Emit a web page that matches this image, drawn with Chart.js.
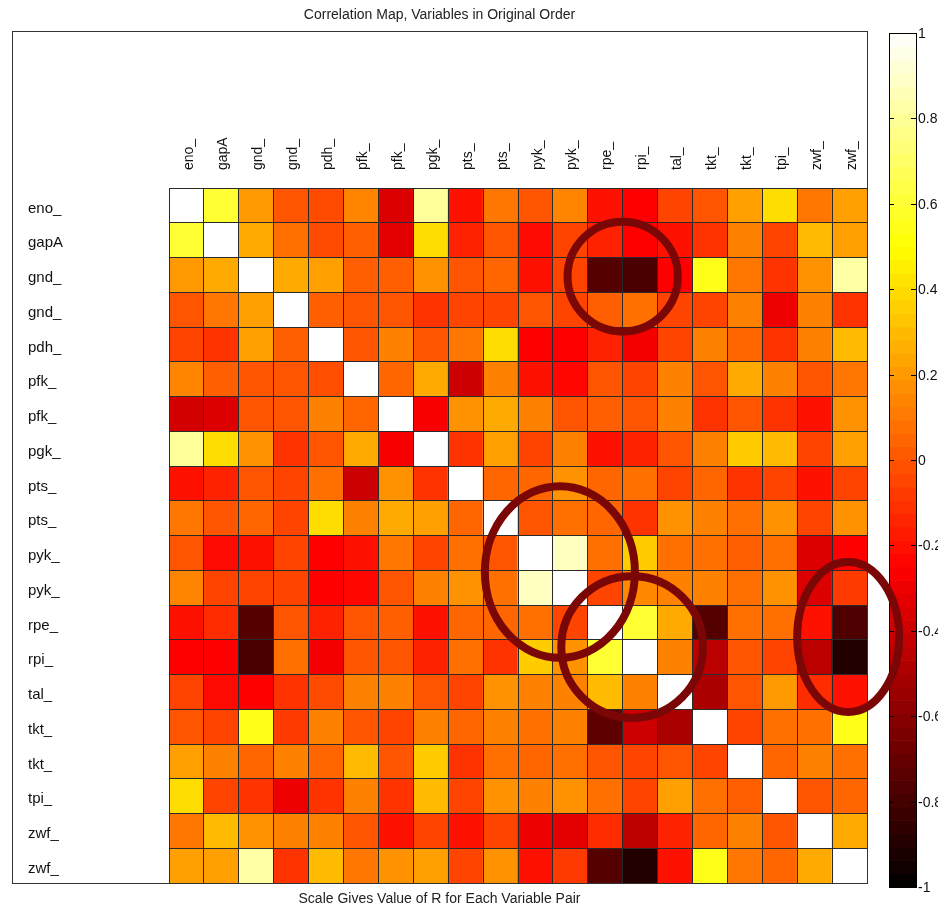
<!DOCTYPE html>
<html>
<head>
<meta charset="utf-8">
<script src="https://cdn.jsdelivr.net/npm/chart.js@4.4.1/dist/chart.umd.min.js"></script>
<style>
  html, body { margin: 0; background: #fff; }
  canvas { display: block; }
</style>
</head>
<body>
<canvas id="heat" width="938" height="907"></canvas>
<script>
// ── Data ────────────────────────────────────────────────
const varNames = [
  "eno_", "gapA", "gnd_", "gnd_", "pdh_", "pfk_", "pfk_", "pgk_", "pts_", "pts_",
  "pyk_", "pyk_", "rpe_", "rpi_", "tal_", "tkt_", "tkt_", "tpi_", "zwf_", "zwf_",
];

// correlation R, row by row
const rEno   = [1, 0.6, 0.2, 0, -0.03, 0.14, -0.35, 0.8, -0.2, 0.1, 0, 0.14, -0.2, -0.25, -0.05, 0, 0.22, 0.4, 0.1, 0.22];
const rGapA  = [0.6, 1, 0.25, 0.08, -0.03, 0.03, -0.33, 0.4, -0.15, 0, -0.22, -0.05, -0.15, -0.25, -0.2, -0.1, 0.13, -0.05, 0.3, 0.22];
const rGnd1  = [0.2, 0.25, 1, 0.25, 0.22, 0.03, 0.03, 0.18, 0, 0.05, -0.2, -0.05, -0.75, -0.78, -0.25, 0.55, 0.1, -0.1, 0.18, 0.82];
const rGnd2  = [0, 0.1, 0.22, 1, 0.03, 0, 0, -0.1, -0.05, -0.05, 0, -0.05, 0.03, 0.08, -0.05, -0.05, 0.13, -0.3, 0.13, -0.1];
const rPdh   = [-0.05, -0.1, 0.22, 0.03, 1, 0, 0.13, 0, 0.1, 0.4, -0.25, -0.25, -0.15, -0.28, -0.05, 0.13, 0.05, -0.1, 0.13, 0.3];
const rPfk1  = [0.14, 0.03, 0, 0, -0.02, 1, 0.05, 0.25, -0.4, 0.13, -0.2, -0.23, 0, -0.05, 0.13, 0, 0.25, 0.13, 0, 0.1];
const rPfk2  = [-0.38, -0.35, 0, 0, 0.13, 0.05, 1, -0.27, 0.18, 0.25, 0.13, 0, 0.03, 0, 0.13, -0.1, 0, -0.1, -0.2, 0.18];
const rPgk   = [0.8, 0.4, 0.18, -0.1, 0, 0.25, -0.27, 1, -0.1, 0.22, -0.05, 0.13, -0.2, -0.15, 0, 0.13, 0.35, 0.3, -0.05, 0.22];
const rPts1  = [-0.2, -0.15, 0, -0.05, 0.08, -0.4, 0.18, -0.1, 1, 0.05, 0.05, 0.18, 0.05, 0.08, -0.05, 0.05, -0.1, -0.05, -0.2, -0.05];
const rPts2  = [0.1, 0, 0.05, -0.05, 0.4, 0.13, 0.25, 0.22, 0.05, 1, 0, 0.08, 0.05, -0.1, 0.18, 0.13, 0.08, 0.18, -0.05, 0.18];
const rPyk1  = [0, -0.22, -0.2, -0.05, -0.25, -0.2, 0.1, -0.05, 0.08, 0, 1, 0.88, 0.08, 0.35, 0.08, 0.08, 0.03, 0.08, -0.35, -0.25];
const rPyk2  = [0.14, -0.05, -0.05, -0.05, -0.25, -0.23, 0, 0.13, 0.18, 0.08, 0.88, 1, -0.05, 0.15, 0.13, 0.13, 0.08, 0.18, -0.35, -0.08];
const rRpe   = [-0.2, -0.12, -0.75, 0, -0.15, 0, 0.03, -0.2, 0.05, 0.05, 0.08, -0.05, 1, 0.6, 0.25, -0.75, 0.08, 0.08, -0.2, -0.77];
const rRpi   = [-0.25, -0.25, -0.78, 0.08, -0.28, 0, 0, -0.15, 0.08, -0.1, 0.35, 0.18, 0.6, 1, 0.13, -0.45, 0, -0.05, -0.45, -0.9];
const rTal   = [-0.05, -0.22, -0.25, -0.1, -0.03, 0.13, 0.13, 0, -0.05, 0.18, 0.13, 0.13, 0.3, 0.13, 1, -0.5, 0, 0.2, -0.12, -0.2];
const rTkt1  = [0, -0.05, 0.55, -0.08, 0.13, 0, -0.05, 0.13, 0.05, 0.13, 0.08, 0.13, -0.72, -0.4, -0.5, 1, -0.05, 0.08, 0.08, 0.55];
const rTkt2  = [0.22, 0.13, 0.05, 0.13, 0.05, 0.3, 0, 0.35, -0.1, 0.08, 0.05, 0.08, 0, -0.05, 0, -0.05, 1, 0.05, 0.13, 0.08];
const rTpi   = [0.4, -0.05, -0.1, -0.3, -0.1, 0.13, -0.1, 0.3, -0.05, 0.18, 0.13, 0.18, 0.08, -0.05, 0.22, 0.08, 0.03, 1, 0, 0.05];
const rZwf1  = [0.1, 0.3, 0.18, 0.13, 0.13, 0, -0.2, -0.05, -0.2, -0.05, -0.3, -0.33, -0.12, -0.45, -0.15, 0.05, 0.13, 0, 1, 0.25];
const rZwf2  = [0.22, 0.22, 0.82, -0.1, 0.3, 0.1, 0.18, 0.22, -0.05, 0.18, -0.2, -0.08, -0.75, -0.9, -0.2, 0.55, 0.1, 0.05, 0.25, 1];

const corr = [rEno, rGapA, rGnd1, rGnd2, rPdh, rPfk1, rPfk2, rPgk, rPts1, rPts2,
              rPyk1, rPyk2, rRpe, rRpi, rTal, rTkt1, rTkt2, rTpi, rZwf1, rZwf2];

const cbTicks = [1, 0.8, 0.6, 0.4, 0.2, 0, -0.2, -0.4, -0.6, -0.8, -1];

// highlight rings, in cell units (cx/cy = column/row index of the centre)
const rings = [
  { cx: 12.5,  cy: 2.05,  rx: 1.58, ry: 1.58 },
  { cx: 10.7,  cy: 10.55, rx: 2.15, ry: 2.47 },
  { cx: 12.77, cy: 12.71, rx: 2.03, ry: 2.04 },
  { cx: 18.96, cy: 12.42, rx: 1.46, ry: 2.16 },
];

// ── Helpers ─────────────────────────────────────────────
const FONT = "'Liberation Sans', Arial, sans-serif";

// matlab "hot" colormap, v in [-1, 1]
function hot(v) {
  const t = (v + 1) / 2;
  const clamp = (x) => Math.min(1, Math.max(0, x));
  const r = clamp(t / 0.375);
  const g = clamp((t - 0.375) / 0.375);
  const b = clamp((t - 0.75) / 0.25);
  return `rgb(${Math.round(r * 255)},${Math.round(g * 255)},${Math.round(b * 255)})`;
}

// ── Overlay: frame, titles, colourbar, rings ────────────
const CB = { left: 889, right: 916, top: 33, bottom: 887 };
const FRAME = { left: 12, top: 31 };

const overlay = {
  id: "overlay",
  beforeDraw(chart) {
    const ctx = chart.ctx;
    ctx.save();
    ctx.fillStyle = "#fff";
    ctx.fillRect(0, 0, chart.width, chart.height);
    ctx.restore();
  },
  afterDraw(chart) {
    const ctx = chart.ctx;
    const area = chart.chartArea;
    ctx.save();

    // axes box
    ctx.strokeStyle = "#333";
    ctx.lineWidth = 1;
    ctx.strokeRect(FRAME.left + 0.5, FRAME.top + 0.5, area.right - FRAME.left, area.bottom - FRAME.top);

    // titles
    const midX = (FRAME.left + area.right) / 2;
    ctx.fillStyle = "#222";
    ctx.font = `14px ${FONT}`;
    ctx.textAlign = "center";
    ctx.textBaseline = "middle";
    ctx.fillText("Correlation Map, Variables in Original Order", midX, 15);
    ctx.fillText("Scale Gives Value of R for Each Variable Pair", midX, 899);

    // colourbar
    const cbY = (v) => CB.bottom - ((v + 1) / 2) * (CB.bottom - CB.top);
    const steps = 64;
    for (let i = 0; i < steps; i++) {
      const v0 = -1 + (2 * i) / steps;
      const v1 = -1 + (2 * (i + 1)) / steps;
      ctx.fillStyle = hot((v0 + v1) / 2);
      ctx.fillRect(CB.left, cbY(v1), CB.right - CB.left, cbY(v0) - cbY(v1) + 0.6);
    }
    ctx.strokeStyle = "#000";
    ctx.strokeRect(CB.left + 0.5, CB.top + 0.5, CB.right - CB.left, CB.bottom - CB.top);
    ctx.fillStyle = "#111";
    ctx.textAlign = "left";
    cbTicks.forEach((v) => {
      const y = Math.round(cbY(v)) + 0.5;
      ctx.beginPath();
      ctx.moveTo(CB.left, y); ctx.lineTo(CB.left + 5, y);
      ctx.moveTo(CB.right - 5, y); ctx.lineTo(CB.right, y);
      ctx.stroke();
      ctx.fillText(String(v), CB.right + 2, y + 1);
    });

    // rings
    const xs = chart.scales.x;
    const ys = chart.scales.y;
    const cw = xs.getPixelForValue(1) - xs.getPixelForValue(0);
    const ch = ys.getPixelForValue(1) - ys.getPixelForValue(0);
    ctx.strokeStyle = "#7a0606";
    ctx.lineWidth = 8;
    rings.forEach((g) => {
      ctx.beginPath();
      ctx.ellipse(xs.getPixelForValue(g.cx), ys.getPixelForValue(g.cy + 0.5), g.rx * cw, g.ry * ch, 0, 0, Math.PI * 2);
      ctx.stroke();
    });

    ctx.restore();
  },
};

// ── Chart ───────────────────────────────────────────────
const datasets = varNames.map((name, r) => ({
  label: name,
  data: varNames.map(() => [r, r + 1]),
  backgroundColor: corr[r].map((v) => hot(v)),
  borderWidth: 0,
  grouped: false,
  barPercentage: 1,
  categoryPercentage: 1,
}));

const gridLines = { offset: true, color: "#2a2a2a", lineWidth: 1, drawTicks: false, z: 1 };

new Chart(document.getElementById("heat"), {
  type: "bar",
  data: { labels: varNames, datasets },
  options: {
    responsive: false,
    animation: false,
    devicePixelRatio: 1,
    layout: { padding: { left: 28, right: 71, top: 0, bottom: 24 } },
    plugins: { legend: { display: false }, tooltip: { enabled: false } },
    scales: {
      x: {
        type: "category",
        position: "top",
        offset: true,
        grid: gridLines,
        border: { display: false },
        ticks: {
          autoSkip: false, minRotation: 90, maxRotation: 90, padding: 18,
          labelOffset: 19,
          color: "#111", font: { family: FONT, size: 14 },
        },
        afterFit: (s) => { s.height = 188; },
      },
      y: { type: "linear", min: 0, max: 20, reverse: true, display: false },
      yl: {
        type: "category",
        labels: varNames,
        position: "left",
        offset: true,
        grid: gridLines,
        border: { display: false },
        ticks: {
          autoSkip: false, crossAlign: "far", padding: 0, labelOffset: 3,
          color: "#111", font: { family: FONT, size: 15 },
        },
        afterFit: (s) => { s.width = 141; },
      },
    },
  },
  plugins: [overlay],
});
</script>
</body>
</html>
